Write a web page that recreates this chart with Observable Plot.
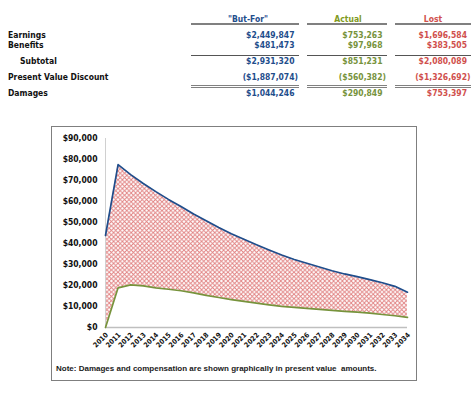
<!DOCTYPE html>
<html><head><meta charset="utf-8">
<script src="https://cdn.jsdelivr.net/npm/d3@7"></script>
<script src="https://cdn.jsdelivr.net/npm/@observablehq/plot@0.6"></script>
<style>
body{margin:0;background:#fff;width:476px;height:397px;position:relative;overflow:hidden;font-family:"DejaVu Sans Condensed","DejaVu Sans",sans-serif;}
.c{position:absolute;font-weight:bold;font-size:8.5px;white-space:nowrap;line-height:10px;}
.ln{position:absolute;}
#box{position:absolute;left:51px;top:126px;width:364px;height:253px;border:1px solid #7f7f7f;}
#note{position:absolute;left:4px;top:237px;font-family:"Liberation Sans",Arial,sans-serif;font-weight:bold;font-size:8px;line-height:10px;color:#1a1a1a;white-space:pre;}
</style></head><body>
<div id="table"></div>
<div id="box"><div id="chart"></div><div id="note">Note: Damages and compensation are shown graphically in present value  amounts.</div></div>
<script>
// ---- table data ----
const headers = ['"But-For"', "Actual", "Lost"];
const rowLabels = ["Earnings", "Benefits", "Subtotal", "Present Value Discount", "Damages"];
const butForVals = ["$2,449,847", "$481,473", "$2,931,320", "($1,887,074)", "$1,044,246"];
const actualVals = ["$753,263", "$97,968", "$851,231", "($560,382)", "$290,849"];
const lostVals = ["$1,696,584", "$383,505", "$2,080,089", "($1,326,692)", "$753,397"];

// ---- chart data ----
const years = [2010,2011,2012,2013,2014,2015,2016,2017,2018,2019,2020,2021,2022,2023,2024,2025,2026,2027,2028,2029,2030,2031,2032,2033,2034];
const butFor = [43800,77600,72800,68600,64700,61000,57600,54000,50800,47600,44600,42000,39400,36900,34500,32400,30600,28800,27000,25500,24200,22800,21300,19600,16800];
const actual = [0,18900,20300,19800,18900,18200,17500,16500,15300,14300,13300,12400,11600,10800,10100,9600,9100,8600,8200,7700,7300,6800,6200,5600,4800];
const yTicks = [0,10000,20000,30000,40000,50000,60000,70000,80000,90000];

// ---- build table ----
const T = document.getElementById("table");
const cols = [
  {vals: butForVals, color: "#1f4e8c", hColor: "#1f4e8c", x0: 191, x1: 299, right: 298, hc: 248},
  {vals: actualVals, color: "#77933c", hColor: "#7f9a1e", x0: 307, x1: 387, right: 386, hc: 348},
  {vals: lostVals, color: "#d0504d", hColor: "#d0504d", x0: 395, x1: 471, right: 470.5, hc: 433}
];
const rowY = [34.7, 45.3, 61, 77, 93];
function add(html, style, cls) {
  const d = document.createElement("div");
  d.className = cls || "c";
  if (html !== null) d.innerHTML = html;
  Object.assign(d.style, style);
  T.appendChild(d);
  return d;
}
rowLabels.forEach((lab, i) => {
  add(null, {left: (i === 2 ? 20 : 8) + "px", top: (rowY[i] - 5) + "px", color: "#111"}).textContent = lab;
});
cols.forEach((c, j) => {
  const h = add(null, {left: (c.hc - 40) + "px", width: "80px", textAlign: "center", top: (19 - 5) + "px", color: c.hColor});
  h.textContent = headers[j];
  add(null, {left: c.x0 + "px", width: (c.x1 - c.x0) + "px", top: "22.5px", height: "2px", background: "#808080"}, "ln");
  add(null, {left: c.x0 + "px", width: (c.x1 - c.x0) + "px", top: "54.5px", height: "1px", background: "#555"}, "ln");
  add(null, {left: c.x0 + "px", width: (c.x1 - c.x0) + "px", top: "85px", height: "1px", borderTop: "1px solid #808080", borderBottom: "1px solid #808080"}, "ln");
  c.vals.forEach((v, i) => {
    const d = add(null, {right: (476 - c.right) + "px", top: (rowY[i] - 5) + "px", color: c.color, textAlign: "right"});
    d.textContent = v;
    if (!v.startsWith("(")) {
      const s = document.createElement("span");
      s.style.visibility = "hidden";
      s.textContent = ")";
      d.appendChild(s);
    }
  });
});

// ---- chart ----
const data = years.map((y, i) => ({year: y, butFor: butFor[i], actual: actual[i]}));
const chart = Plot.plot({
  width: 364, height: 225,
  marginLeft: 53, marginTop: 11, marginBottom: 25, marginRight: 9,
  style: {fontFamily: '"DejaVu Sans Condensed","DejaVu Sans",sans-serif', fontWeight: "bold", color: "#111", background: "transparent", overflow: "visible"},
  x: {domain: [2010, 2034], axis: null},
  y: {domain: [0, 90000]},
  marks: [
    Plot.areaY(data, {x: "year", y1: "actual", y2: "butFor", fill: "url(#hatch)"}),
    Plot.ruleY([0], {stroke: "#bfbfbf", strokeWidth: 1.5}),
    Plot.ruleX([2010], {stroke: "#d0d0d0", strokeWidth: 1}),
    Plot.line(data, {x: "year", y: "butFor", stroke: "#1f4e8c", strokeWidth: 1.7}),
    Plot.line(data, {x: "year", y: "actual", stroke: "#77933c", strokeWidth: 1.7}),
    Plot.axisY(yTicks, {tickSize: 0, tickPadding: 8, fontSize: 8.5, tickFormat: d => "$" + d3.format(",")(d)}),
    Plot.text(years, {x: d => d, frameAnchor: "bottom", rotate: -45, textAnchor: "end", dx: 3, dy: 8, fontSize: 7, text: d => String(d)})
  ]
});
const ns = "http://www.w3.org/2000/svg";
const defs = document.createElementNS(ns, "defs");
const pat = document.createElementNS(ns, "pattern");
pat.setAttribute("id", "hatch");
pat.setAttribute("patternUnits", "userSpaceOnUse");
pat.setAttribute("width", "4.4");
pat.setAttribute("height", "4.4");
const p = document.createElementNS(ns, "path");
p.setAttribute("d", "M0,0L4.4,4.4M4.4,0L0,4.4");
p.setAttribute("stroke", "#e07f7f");
p.setAttribute("stroke-width", "0.9");
pat.appendChild(p);
defs.appendChild(pat);
chart.insertBefore(defs, chart.firstChild);
document.getElementById("chart").appendChild(chart);
</script>
</body></html>
